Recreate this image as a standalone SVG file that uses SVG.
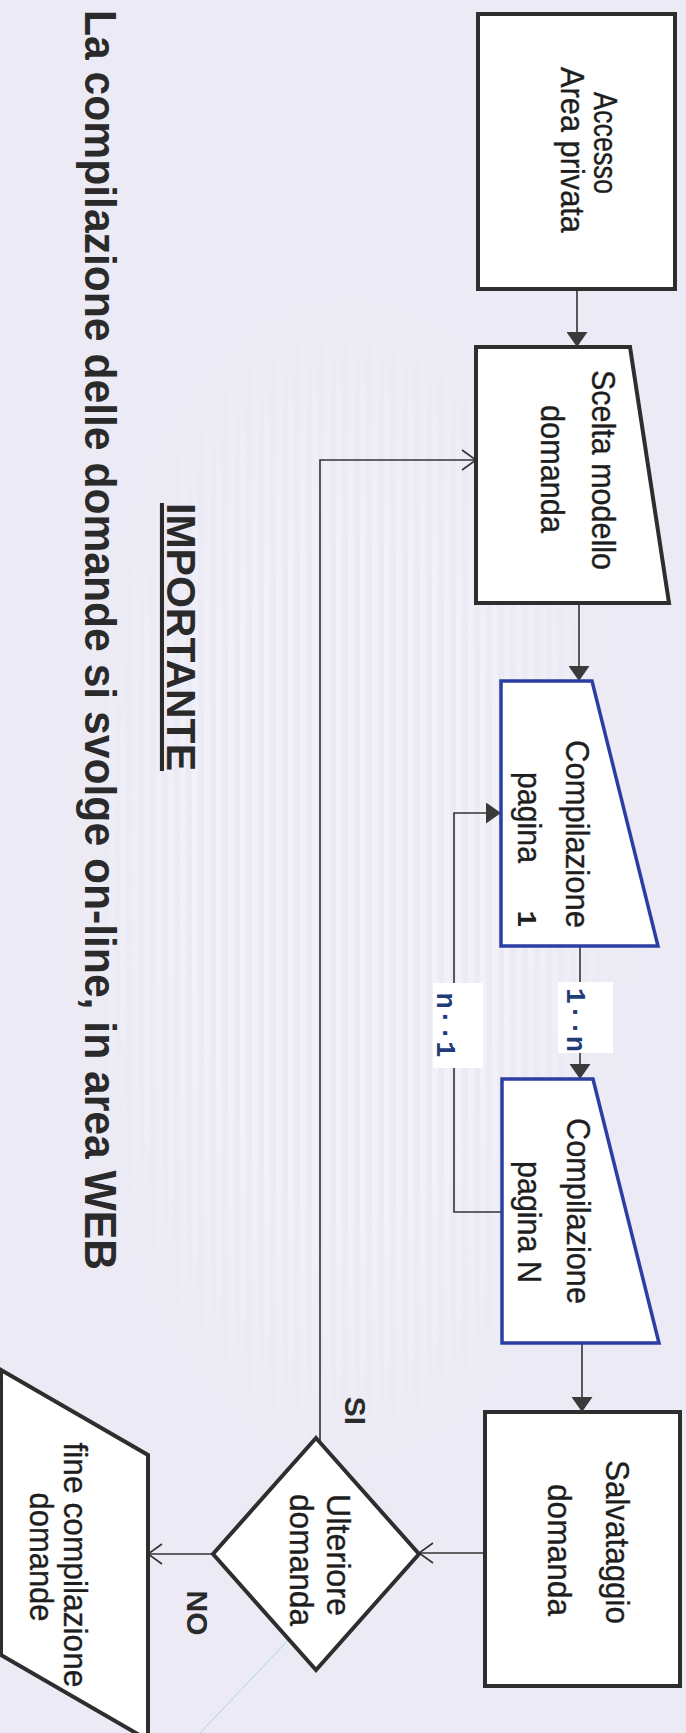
<svg xmlns="http://www.w3.org/2000/svg" width="686" height="1733" viewBox="0 0 686 1733">
<style>
.t{font-family:"Liberation Sans",Arial,sans-serif;font-size:33px;fill:#1e1e1e;stroke:#1e1e1e;stroke-width:0.35}
.lbl{font-family:"Liberation Sans",Arial,sans-serif;font-weight:bold;font-size:30px;fill:#2a2a2a}
.mono{font-family:"Liberation Mono","DejaVu Sans Mono",monospace;font-weight:bold;font-size:28px;fill:#1f3c78}
.box{fill:#fff;stroke:#2e2e2e;stroke-width:4}
.bbox{fill:#fff;stroke:#2b3fa3;stroke-width:3.5}
.edge{fill:none;stroke:#333;stroke-width:1.6}
.lblbg{fill:#fff}
</style>
<defs>
<marker id="fa" viewBox="0 0 15 21" refX="15" refY="10.5" markerWidth="15" markerHeight="21" orient="auto" markerUnits="userSpaceOnUse"><path d="M0,0 L15,10.5 L0,21 z" fill="#3a3a3a"/></marker>
<marker id="oa" viewBox="0 0 16 22" refX="15" refY="11" markerWidth="16" markerHeight="22" orient="auto" markerUnits="userSpaceOnUse"><path d="M1,1 L15,11 L1,21" fill="none" stroke="#333" stroke-width="1.6"/></marker>
<pattern id="stripes" width="12" height="20" patternUnits="userSpaceOnUse"><rect width="6" height="20" fill="#ffffff"/></pattern>
<radialGradient id="fade" cx="0.5" cy="0.5" r="0.5"><stop offset="0.55" stop-color="#fff" stop-opacity="1"/><stop offset="1" stop-color="#fff" stop-opacity="0"/></radialGradient>
<mask id="stripemask"><rect x="60" y="280" width="580" height="1200" fill="url(#fade)"/></mask>
</defs>
<rect width="686" height="1733" fill="#ecebf5"/>
<rect x="60" y="280" width="580" height="1200" fill="url(#stripes)" opacity="0.3" mask="url(#stripemask)"/>
<line x1="386" y1="1537" x2="200" y2="1733" stroke="#a9d3e4" stroke-width="1"/>

<g id="title">
<text transform="translate(85,10) rotate(90)" style="font-family:'Liberation Sans',Arial,sans-serif;font-weight:bold;font-size:44px;fill:#2a2a2a" textLength="1260" lengthAdjust="spacingAndGlyphs">La compilazione delle domande si svolge on-line, in area WEB</text>
<text transform="translate(167,637) rotate(90)" text-anchor="middle" style="font-family:'Liberation Sans',Arial,sans-serif;font-weight:bold;font-size:41px;fill:#2a2a2a" text-decoration="underline">IMPORTANTE</text>
</g>

<g id="connectors">
<line class="edge" x1="577" y1="289" x2="577" y2="347" marker-end="url(#fa)"/>
<line class="edge" x1="579" y1="603" x2="579" y2="681" marker-end="url(#fa)"/>
<line class="edge" x1="580" y1="946" x2="580" y2="1079" marker-end="url(#fa)"/>
<path class="edge" d="M502,1212 H454 V813 H501" marker-end="url(#fa)"/>
<line class="edge" x1="582" y1="1343" x2="582" y2="1412" marker-end="url(#fa)"/>
<line class="edge" x1="485" y1="1553" x2="419" y2="1553" marker-end="url(#oa)"/>
<line class="edge" x1="213" y1="1554" x2="148" y2="1554" marker-end="url(#oa)"/>
<path class="edge" d="M320,1442 V460 H476" marker-end="url(#oa)"/>
<rect class="lblbg" x="558" y="982" width="55" height="71"/>
<text class="mono" transform="translate(567,1020) rotate(90)" text-anchor="middle" textLength="64" lengthAdjust="spacingAndGlyphs">1··n</text>
<rect class="lblbg" x="433" y="983" width="50" height="85"/>
<text class="mono" transform="translate(437,1025) rotate(90)" text-anchor="middle" textLength="65" lengthAdjust="spacingAndGlyphs">n··1</text>
<text class="lbl" transform="translate(345,1411) rotate(90)" text-anchor="middle">SI</text>
<text class="lbl" transform="translate(187,1613) rotate(90)" text-anchor="middle">NO</text>
</g>

<g id="accesso">
<rect class="box" x="478" y="14" width="197" height="275"/>
<text class="t" transform="translate(594,143) rotate(90)" text-anchor="middle" textLength="102" lengthAdjust="spacingAndGlyphs">Accesso</text>
<text class="t" transform="translate(561,150) rotate(90)" text-anchor="middle" textLength="166" lengthAdjust="spacingAndGlyphs">Area privata</text>
</g>

<g id="scelta">
<polygon class="box" points="476,347 630,347 669,603 476,603"/>
<text class="t" transform="translate(592,470) rotate(90)" text-anchor="middle" textLength="200" lengthAdjust="spacingAndGlyphs">Scelta modello</text>
<text class="t" transform="translate(541,469) rotate(90)" text-anchor="middle" textLength="128" lengthAdjust="spacingAndGlyphs">domanda</text>
</g>

<g id="pagina1">
<polygon class="bbox" points="501,681 592,681 658,946 501,946"/>
<text class="t" transform="translate(566,834) rotate(90)" text-anchor="middle" textLength="188" lengthAdjust="spacingAndGlyphs">Compilazione</text>
<text class="t" transform="translate(518,772) rotate(90)" textLength="91" lengthAdjust="spacingAndGlyphs">pagina</text>
<text class="mono" transform="translate(518,919) rotate(90)" text-anchor="middle" style="fill:#1e1e1e">1</text>
</g>

<g id="paginaN">
<polygon class="bbox" points="502,1079 593,1079 659,1343 502,1343"/>
<text class="t" transform="translate(567,1211) rotate(90)" text-anchor="middle" textLength="186" lengthAdjust="spacingAndGlyphs">Compilazione</text>
<text class="t" transform="translate(518,1222) rotate(90)" text-anchor="middle" textLength="122" lengthAdjust="spacingAndGlyphs">pagina N</text>
</g>

<g id="salvataggio">
<rect class="box" x="485" y="1412" width="195" height="274"/>
<text class="t" transform="translate(606,1542) rotate(90)" text-anchor="middle" textLength="164" lengthAdjust="spacingAndGlyphs">Salvataggio</text>
<text class="t" transform="translate(548,1550) rotate(90)" text-anchor="middle" textLength="132" lengthAdjust="spacingAndGlyphs">domanda</text>
</g>

<g id="ulteriore">
<polygon class="box" points="316,1438 419,1554 316,1670 213,1554"/>
<text class="t" transform="translate(327,1555) rotate(90)" text-anchor="middle" textLength="122" lengthAdjust="spacingAndGlyphs">Ulteriore</text>
<text class="t" transform="translate(290,1560) rotate(90)" text-anchor="middle" textLength="132" lengthAdjust="spacingAndGlyphs">domanda</text>
</g>

<g id="fine">
<polygon class="box" points="1,1370 148,1455 148,1740 1,1655"/>
<text class="t" transform="translate(64,1565) rotate(90)" text-anchor="middle" textLength="245" lengthAdjust="spacingAndGlyphs">fine compilazione</text>
<text class="t" transform="translate(30,1557) rotate(90)" text-anchor="middle" textLength="129" lengthAdjust="spacingAndGlyphs">domande</text>
</g>
</svg>
